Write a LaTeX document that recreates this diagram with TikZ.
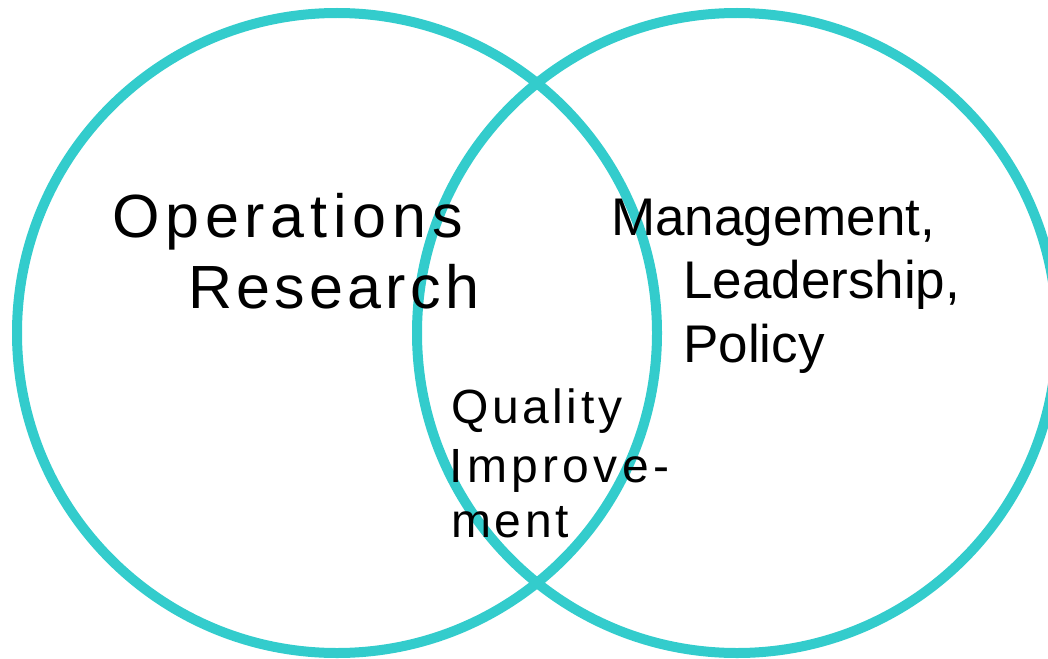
\documentclass[tikz,border=0pt]{standalone}
\usepackage{fontspec}
\setmainfont{Liberation Sans}
\definecolor{teal1}{RGB}{51,204,204}
\begin{document}
\begin{tikzpicture}[x=1pt,y=-1pt,
  ring/.style={draw=teal1,line width=10pt},
  lbl/.style={inner sep=0pt,anchor=base west,text=black},
  bigfont/.style={font=\fontsize{61}{72}\selectfont\addfontfeature{LetterSpace=9.5}},
  bigfontb/.style={font=\fontsize{61}{72}\selectfont\addfontfeature{LetterSpace=7}},
  midfont/.style={font=\fontsize{53}{63}\selectfont},
  smallfont/.style={font=\fontsize{48}{58}\selectfont\addfontfeature{LetterSpace=7.5}},
  smallfontb/.style={font=\fontsize{48}{58}\selectfont\addfontfeature{LetterSpace=9}}]
\useasboundingbox (0,0) rectangle (1048,658);
\draw[ring] (337,333) circle[radius=320];
\draw[ring] (737,333) circle[radius=320];
\node[lbl,bigfont] (op) at (112,237) {Operations};
\node[lbl,bigfontb] (re) at (188,308) {Research};
\node[lbl,midfont] (ma) at (611,235) {Management,};
\node[lbl,midfont] (le) at (683,298) {Leadership,};
\node[lbl,midfont] (po) at (683,362) {Policy};
\node[lbl,smallfont] (qu) at (451,423) {Quality};
\node[lbl,smallfontb] (im) at (449.5,482) {Improve-};
\node[lbl,smallfont] (me) at (451,537) {ment};
\end{tikzpicture}
\end{document}
